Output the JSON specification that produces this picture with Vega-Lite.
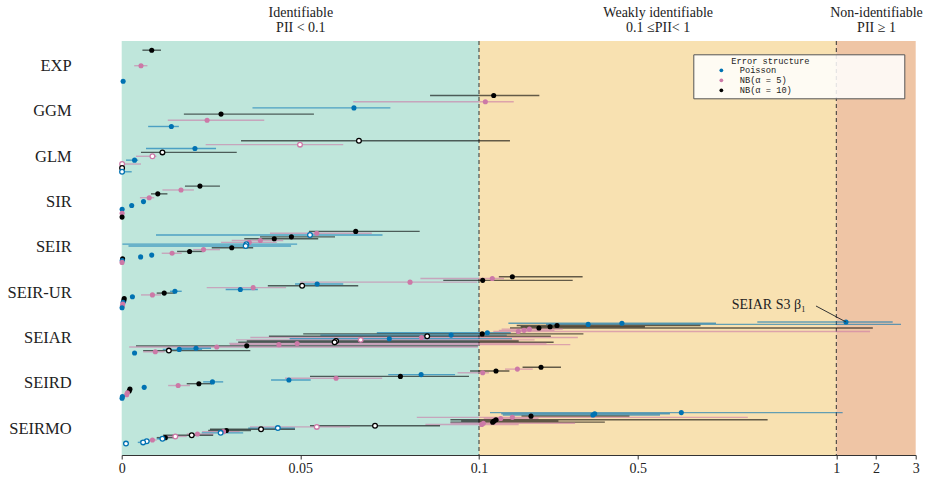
{
  "$schema": "https://vega.github.io/schema/vega-lite/v6.json",
  "width": 794,
  "height": 414,
  "autosize": {"type": "none"},
  "padding": {"left": 121.7, "top": 41, "right": 14.3, "bottom": 24},
  "background": "white",
  "config": {"view": {"stroke": null}, "axis": {"grid": false}},
  "datasets": {
    "zones": [
      {"zone": "identifiable", "lo": 0, "hi": 0.1},
      {"zone": "weak", "lo": 0.1, "hi": 1},
      {"zone": "non", "lo": 1, "hi": 3}
    ],
    "fits": [
      {"model": "EXP", "error": "NB(α = 10)", "kind": "par", "est": 0.0084, "lo": 0.0058, "hi": 0.0110},
      {"model": "EXP", "error": "NB(α = 5)", "kind": "par", "est": 0.0054, "lo": 0.0035, "hi": 0.0072},
      {"model": "EXP", "error": "Poisson", "kind": "par", "est": 0.0004, "lo": 0.0004, "hi": 0.0004},

      {"model": "GGM", "error": "NB(α = 10)", "kind": "par", "est": 0.137, "lo": 0.0863, "hi": 0.252},
      {"model": "GGM", "error": "NB(α = 5)", "kind": "par", "est": 0.116, "lo": 0.0648, "hi": 0.1875},
      {"model": "GGM", "error": "Poisson", "kind": "par", "est": 0.0650, "lo": 0.0366, "hi": 0.0752},
      {"model": "GGM", "error": "NB(α = 10)", "kind": "par", "est": 0.0278, "lo": 0.0174, "hi": 0.0538},
      {"model": "GGM", "error": "NB(α = 5)", "kind": "par", "est": 0.0239, "lo": 0.0129, "hi": 0.0399},
      {"model": "GGM", "error": "Poisson", "kind": "par", "est": 0.0139, "lo": 0.0074, "hi": 0.0160},

      {"model": "GLM", "error": "NB(α = 10)", "kind": "ic", "est": 0.0664, "lo": 0.0334, "hi": 0.178},
      {"model": "GLM", "error": "NB(α = 5)", "kind": "ic", "est": 0.0499, "lo": 0.0235, "hi": 0.0620},
      {"model": "GLM", "error": "Poisson", "kind": "par", "est": 0.0205, "lo": 0.0068, "hi": 0.0264},
      {"model": "GLM", "error": "NB(α = 10)", "kind": "ic", "est": 0.0114, "lo": 0.0054, "hi": 0.0322},
      {"model": "GLM", "error": "NB(α = 5)", "kind": "ic", "est": 0.0086, "lo": 0.0040, "hi": 0.0097},
      {"model": "GLM", "error": "Poisson", "kind": "par", "est": 0.0036, "lo": 0.0012, "hi": 0.0046},
      {"model": "GLM", "error": "NB(α = 5)", "kind": "ic", "est": 0.00012, "lo": 0.0, "hi": 0.0054},
      {"model": "GLM", "error": "NB(α = 10)", "kind": "ic", "est": 0.00011, "lo": 0.00011, "hi": 0.00011},
      {"model": "GLM", "error": "Poisson", "kind": "ic", "est": 0.00010, "lo": 0.0, "hi": 0.0028},

      {"model": "SIR", "error": "NB(α = 10)", "kind": "par", "est": 0.0219, "lo": 0.0177, "hi": 0.0275},
      {"model": "SIR", "error": "NB(α = 5)", "kind": "par", "est": 0.0166, "lo": 0.0114, "hi": 0.0202},
      {"model": "SIR", "error": "NB(α = 10)", "kind": "par", "est": 0.0101, "lo": 0.0082, "hi": 0.0128},
      {"model": "SIR", "error": "NB(α = 5)", "kind": "par", "est": 0.0077, "lo": 0.0051, "hi": 0.0091},
      {"model": "SIR", "error": "Poisson", "kind": "par", "est": 0.0061, "lo": 0.0056, "hi": 0.0065},
      {"model": "SIR", "error": "Poisson", "kind": "par", "est": 0.0028, "lo": 0.0028, "hi": 0.0028},
      {"model": "SIR", "error": "Poisson", "kind": "par", "est": 0.00012, "lo": 0.00012, "hi": 0.00012},
      {"model": "SIR", "error": "NB(α = 5)", "kind": "par", "est": 0.00011, "lo": 0.00011, "hi": 0.00011},
      {"model": "SIR", "error": "NB(α = 10)", "kind": "par", "est": 0.00010, "lo": 0.00010, "hi": 0.00010},

      {"model": "SEIR", "error": "NB(α = 10)", "kind": "par", "est": 0.0655, "lo": 0.0524, "hi": 0.0834},
      {"model": "SEIR", "error": "NB(α = 5)", "kind": "par", "est": 0.0546, "lo": 0.0415, "hi": 0.0700},
      {"model": "SEIR", "error": "Poisson", "kind": "ic", "est": 0.0527, "lo": 0.0096, "hi": 0.0730},
      {"model": "SEIR", "error": "NB(α = 10)", "kind": "par", "est": 0.0475, "lo": 0.0387, "hi": 0.0597},
      {"model": "SEIR", "error": "NB(α = 10)", "kind": "par", "est": 0.0427, "lo": 0.0343, "hi": 0.0550},
      {"model": "SEIR", "error": "NB(α = 5)", "kind": "par", "est": 0.0388, "lo": 0.0308, "hi": 0.0452},
      {"model": "SEIR", "error": "NB(α = 5)", "kind": "par", "est": 0.0357, "lo": 0.0278, "hi": 0.0434},
      {"model": "SEIR", "error": "Poisson", "kind": "ic", "est": 0.0349, "lo": 0.0002, "hi": 0.0491},
      {"model": "SEIR", "error": "Poisson", "kind": "ic", "est": 0.0347, "lo": 0.0019, "hi": 0.0474},
      {"model": "SEIR", "error": "NB(α = 10)", "kind": "par", "est": 0.0308, "lo": 0.0252, "hi": 0.0368},
      {"model": "SEIR", "error": "NB(α = 5)", "kind": "par", "est": 0.0229, "lo": 0.0200, "hi": 0.0275},
      {"model": "SEIR", "error": "NB(α = 10)", "kind": "par", "est": 0.0190, "lo": 0.0155, "hi": 0.0229},
      {"model": "SEIR", "error": "NB(α = 5)", "kind": "par", "est": 0.0141, "lo": 0.0112, "hi": 0.0168},
      {"model": "SEIR", "error": "Poisson", "kind": "par", "est": 0.0084, "lo": 0.0080, "hi": 0.0089},
      {"model": "SEIR", "error": "Poisson", "kind": "par", "est": 0.0053, "lo": 0.0053, "hi": 0.0053},
      {"model": "SEIR", "error": "NB(α = 10)", "kind": "par", "est": 0.00025, "lo": 0.00025, "hi": 0.00025},
      {"model": "SEIR", "error": "Poisson", "kind": "par", "est": 0.00015, "lo": 0.00015, "hi": 0.00015},
      {"model": "SEIR", "error": "NB(α = 5)", "kind": "par", "est": 0.00010, "lo": 0.00010, "hi": 0.00010},

      {"model": "SEIR-UR", "error": "NB(α = 10)", "kind": "par", "est": 0.184, "lo": 0.150, "hi": 0.361},
      {"model": "SEIR-UR", "error": "NB(α = 5)", "kind": "par", "est": 0.1335, "lo": 0.0836, "hi": 0.163},
      {"model": "SEIR-UR", "error": "NB(α = 10)", "kind": "par", "est": 0.1093, "lo": 0.090, "hi": 0.336},
      {"model": "SEIR-UR", "error": "NB(α = 5)", "kind": "par", "est": 0.0807, "lo": 0.0499, "hi": 0.0995},
      {"model": "SEIR-UR", "error": "Poisson", "kind": "par", "est": 0.0547, "lo": 0.0485, "hi": 0.0620},
      {"model": "SEIR-UR", "error": "NB(α = 10)", "kind": "ic", "est": 0.0505, "lo": 0.0409, "hi": 0.0662},
      {"model": "SEIR-UR", "error": "NB(α = 5)", "kind": "par", "est": 0.0368, "lo": 0.0238, "hi": 0.0460},
      {"model": "SEIR-UR", "error": "Poisson", "kind": "par", "est": 0.0332, "lo": 0.0291, "hi": 0.0381},
      {"model": "SEIR-UR", "error": "Poisson", "kind": "par", "est": 0.0149, "lo": 0.0135, "hi": 0.0168},
      {"model": "SEIR-UR", "error": "NB(α = 10)", "kind": "par", "est": 0.0119, "lo": 0.0098, "hi": 0.0149},
      {"model": "SEIR-UR", "error": "NB(α = 5)", "kind": "par", "est": 0.0086, "lo": 0.0054, "hi": 0.0110},
      {"model": "SEIR-UR", "error": "Poisson", "kind": "par", "est": 0.0030, "lo": 0.0030, "hi": 0.0030},
      {"model": "SEIR-UR", "error": "NB(α = 10)", "kind": "par", "est": 0.0007, "lo": 0.0007, "hi": 0.0007},
      {"model": "SEIR-UR", "error": "NB(α = 10)", "kind": "par", "est": 0.0006, "lo": 0.0006, "hi": 0.0006},
      {"model": "SEIR-UR", "error": "Poisson", "kind": "par", "est": 0.0004, "lo": 0.0004, "hi": 0.0004},
      {"model": "SEIR-UR", "error": "NB(α = 5)", "kind": "par", "est": 0.0003, "lo": 0.0003, "hi": 0.0003},
      {"model": "SEIR-UR", "error": "NB(α = 5)", "kind": "par", "est": 0.0002, "lo": 0.0002, "hi": 0.0002},
      {"model": "SEIR-UR", "error": "Poisson", "kind": "par", "est": 0.0001, "lo": 0.0001, "hi": 0.0001},

      {"model": "SEIAR", "error": "Poisson", "kind": "par", "est": 1.244, "lo": 0.801, "hi": 2.42, "label": "SEIAR S3 β₁"},
      {"model": "SEIAR", "error": "Poisson", "kind": "par", "est": 0.460, "lo": 0.174, "hi": 0.697},
      {"model": "SEIAR", "error": "Poisson", "kind": "par", "est": 0.375, "lo": 0.269, "hi": 2.63},
      {"model": "SEIAR", "error": "NB(α = 10)", "kind": "par", "est": 0.2965, "lo": 0.195, "hi": 0.658},
      {"model": "SEIAR", "error": "NB(α = 10)", "kind": "par", "est": 0.279, "lo": 0.205, "hi": 0.518},
      {"model": "SEIAR", "error": "NB(α = 10)", "kind": "par", "est": 0.251, "lo": 0.178, "hi": 1.92},
      {"model": "SEIAR", "error": "NB(α = 5)", "kind": "par", "est": 0.227, "lo": 0.157, "hi": 0.311},
      {"model": "SEIAR", "error": "NB(α = 5)", "kind": "par", "est": 0.2135, "lo": 0.150, "hi": 0.290},
      {"model": "SEIAR", "error": "NB(α = 5)", "kind": "par", "est": 0.199, "lo": 0.136, "hi": 1.85},
      {"model": "SEIAR", "error": "Poisson", "kind": "par", "est": 0.121, "lo": 0.0714, "hi": 0.180},
      {"model": "SEIAR", "error": "NB(α = 10)", "kind": "par", "est": 0.108, "lo": 0.0508, "hi": 0.363},
      {"model": "SEIAR", "error": "Poisson", "kind": "par", "est": 0.0922, "lo": 0.0556, "hi": 0.170},
      {"model": "SEIAR", "error": "NB(α = 10)", "kind": "ic", "est": 0.0855, "lo": 0.0412, "hi": 0.281},
      {"model": "SEIAR", "error": "NB(α = 5)", "kind": "par", "est": 0.0839, "lo": 0.0360, "hi": 0.349},
      {"model": "SEIAR", "error": "Poisson", "kind": "par", "est": 0.0749, "lo": 0.0470, "hi": 0.183},
      {"model": "SEIAR", "error": "NB(α = 5)", "kind": "ic", "est": 0.0669, "lo": 0.0320, "hi": 0.240},
      {"model": "SEIAR", "error": "NB(α = 10)", "kind": "ic", "est": 0.0600, "lo": 0.0350, "hi": 0.200},
      {"model": "SEIAR", "error": "NB(α = 10)", "kind": "ic", "est": 0.0596, "lo": 0.0326, "hi": 0.288},
      {"model": "SEIAR", "error": "NB(α = 5)", "kind": "par", "est": 0.0491, "lo": 0.0301, "hi": 0.270},
      {"model": "SEIAR", "error": "NB(α = 5)", "kind": "par", "est": 0.0440, "lo": 0.0303, "hi": 0.330},
      {"model": "SEIAR", "error": "NB(α = 10)", "kind": "par", "est": 0.0350, "lo": 0.0040, "hi": 0.0997},
      {"model": "SEIAR", "error": "NB(α = 5)", "kind": "par", "est": 0.0266, "lo": 0.0021, "hi": 0.0997},
      {"model": "SEIAR", "error": "Poisson", "kind": "par", "est": 0.0208, "lo": 0.0160, "hi": 0.0250},
      {"model": "SEIAR", "error": "Poisson", "kind": "par", "est": 0.0161, "lo": 0.0115, "hi": 0.0225},
      {"model": "SEIAR", "error": "NB(α = 10)", "kind": "ic", "est": 0.0132, "lo": 0.0060, "hi": 0.0360},
      {"model": "SEIAR", "error": "NB(α = 5)", "kind": "par", "est": 0.0094, "lo": 0.0060, "hi": 0.0120},
      {"model": "SEIAR", "error": "Poisson", "kind": "par", "est": 0.0036, "lo": 0.0036, "hi": 0.0036},

      {"model": "SEIRD", "error": "NB(α = 10)", "kind": "par", "est": 0.2562, "lo": 0.2097, "hi": 0.3065},
      {"model": "SEIRD", "error": "NB(α = 5)", "kind": "par", "est": 0.1967, "lo": 0.1655, "hi": 0.2353},
      {"model": "SEIRD", "error": "NB(α = 10)", "kind": "par", "est": 0.1428, "lo": 0.0975, "hi": 0.1766},
      {"model": "SEIRD", "error": "NB(α = 5)", "kind": "par", "est": 0.1093, "lo": 0.094, "hi": 0.125},
      {"model": "SEIRD", "error": "Poisson", "kind": "par", "est": 0.0838, "lo": 0.0746, "hi": 0.0933},
      {"model": "SEIRD", "error": "NB(α = 10)", "kind": "par", "est": 0.0780, "lo": 0.0527, "hi": 0.0972},
      {"model": "SEIRD", "error": "NB(α = 5)", "kind": "par", "est": 0.0600, "lo": 0.0457, "hi": 0.0729},
      {"model": "SEIRD", "error": "Poisson", "kind": "par", "est": 0.0468, "lo": 0.0418, "hi": 0.0529},
      {"model": "SEIRD", "error": "Poisson", "kind": "par", "est": 0.0254, "lo": 0.0228, "hi": 0.0284},
      {"model": "SEIRD", "error": "NB(α = 10)", "kind": "par", "est": 0.0216, "lo": 0.0182, "hi": 0.0252},
      {"model": "SEIRD", "error": "NB(α = 5)", "kind": "par", "est": 0.0158, "lo": 0.0130, "hi": 0.0191},
      {"model": "SEIRD", "error": "Poisson", "kind": "par", "est": 0.0063, "lo": 0.0063, "hi": 0.0063},
      {"model": "SEIRD", "error": "NB(α = 10)", "kind": "par", "est": 0.0023, "lo": 0.0023, "hi": 0.0023},
      {"model": "SEIRD", "error": "NB(α = 10)", "kind": "par", "est": 0.0021, "lo": 0.0021, "hi": 0.0021},
      {"model": "SEIRD", "error": "NB(α = 5)", "kind": "par", "est": 0.0016, "lo": 0.0016, "hi": 0.0016},
      {"model": "SEIRD", "error": "NB(α = 5)", "kind": "par", "est": 0.0014, "lo": 0.0014, "hi": 0.0014},
      {"model": "SEIRD", "error": "Poisson", "kind": "par", "est": 0.0002, "lo": 0.0002, "hi": 0.0002},
      {"model": "SEIRD", "error": "Poisson", "kind": "par", "est": 0.0001, "lo": 0.0001, "hi": 0.0001},

      {"model": "SEIRMO", "error": "Poisson", "kind": "par", "est": 0.6096, "lo": 0.1277, "hi": 1.16},
      {"model": "SEIRMO", "error": "Poisson", "kind": "par", "est": 0.3914, "lo": 0.156, "hi": 0.581},
      {"model": "SEIRMO", "error": "Poisson", "kind": "par", "est": 0.387, "lo": 0.160, "hi": 0.556},
      {"model": "SEIRMO", "error": "NB(α = 10)", "kind": "par", "est": 0.231, "lo": 0.207, "hi": 0.479},
      {"model": "SEIRMO", "error": "NB(α = 5)", "kind": "par", "est": 0.184, "lo": 0.0826, "hi": 0.777},
      {"model": "SEIRMO", "error": "NB(α = 5)", "kind": "par", "est": 0.1547, "lo": 0.112, "hi": 0.250},
      {"model": "SEIRMO", "error": "NB(α = 10)", "kind": "par", "est": 0.1428, "lo": 0.092, "hi": 0.827},
      {"model": "SEIRMO", "error": "NB(α = 10)", "kind": "par", "est": 0.138, "lo": 0.095, "hi": 0.300},
      {"model": "SEIRMO", "error": "NB(α = 10)", "kind": "par", "est": 0.1345, "lo": 0.092, "hi": 0.417},
      {"model": "SEIRMO", "error": "NB(α = 5)", "kind": "par", "est": 0.111, "lo": 0.092, "hi": 0.342},
      {"model": "SEIRMO", "error": "NB(α = 5)", "kind": "par", "est": 0.1068, "lo": 0.085, "hi": 0.200},
      {"model": "SEIRMO", "error": "NB(α = 10)", "kind": "ic", "est": 0.0709, "lo": 0.0527, "hi": 0.0891},
      {"model": "SEIRMO", "error": "NB(α = 5)", "kind": "ic", "est": 0.0546, "lo": 0.0359, "hi": 0.0639},
      {"model": "SEIRMO", "error": "Poisson", "kind": "ic", "est": 0.0437, "lo": 0.0354, "hi": 0.0485},
      {"model": "SEIRMO", "error": "NB(α = 10)", "kind": "ic", "est": 0.0390, "lo": 0.0247, "hi": 0.0485},
      {"model": "SEIRMO", "error": "NB(α = 10)", "kind": "par", "est": 0.0293, "lo": 0.0242, "hi": 0.0362},
      {"model": "SEIRMO", "error": "NB(α = 5)", "kind": "par", "est": 0.0285, "lo": 0.0225, "hi": 0.0330},
      {"model": "SEIRMO", "error": "Poisson", "kind": "ic", "est": 0.0277, "lo": 0.0224, "hi": 0.0340},
      {"model": "SEIRMO", "error": "NB(α = 5)", "kind": "par", "est": 0.0212, "lo": 0.0182, "hi": 0.0257},
      {"model": "SEIRMO", "error": "NB(α = 10)", "kind": "ic", "est": 0.0196, "lo": 0.0116, "hi": 0.0256},
      {"model": "SEIRMO", "error": "NB(α = 5)", "kind": "ic", "est": 0.0150, "lo": 0.0116, "hi": 0.0182},
      {"model": "SEIRMO", "error": "NB(α = 10)", "kind": "par", "est": 0.0122, "lo": 0.0098, "hi": 0.0154},
      {"model": "SEIRMO", "error": "Poisson", "kind": "ic", "est": 0.0114, "lo": 0.0098, "hi": 0.0130},
      {"model": "SEIRMO", "error": "NB(α = 5)", "kind": "par", "est": 0.0086, "lo": 0.0077, "hi": 0.0098},
      {"model": "SEIRMO", "error": "Poisson", "kind": "ic", "est": 0.0070, "lo": 0.0051, "hi": 0.0079},
      {"model": "SEIRMO", "error": "Poisson", "kind": "ic", "est": 0.0060, "lo": 0.0045, "hi": 0.0068},
      {"model": "SEIRMO", "error": "Poisson", "kind": "ic", "est": 0.0012, "lo": 0.0012, "hi": 0.0012}
    ]
  },
  "data": {"name": "fits"},
  "transform": [
    {"window": [{"op": "row_number", "as": "r"}], "groupby": ["model"], "sort": [{"field": "est", "order": "descending"}]},
    {"joinaggregate": [{"op": "count", "as": "n"}], "groupby": ["model"]},
    {"calculate": "indexof(['EXP','GGM','GLM','SIR','SEIR','SEIR-UR','SEIAR','SEIRD','SEIRMO'], datum.model) - 0.342 + 0.684 * (datum.r - 1) / max(datum.n - 1, 1)", "as": "pos"}
  ],
  "resolve": {"axis": {"x": "independent"}},
  "layer": [
    {
      "data": {"name": "zones"},
      "mark": {"type": "rect"},
      "encoding": {
        "x": {
          "field": "lo", "type": "quantitative",
          "scale": {"type": "linear", "domain": [0, 0.1, 1, 3], "range": [0, 357.3, 714.6, 794], "nice": false, "zero": false},
          "axis": {
            "orient": "top", "title": null, "values": [0.05, 0.55, 2],
            "labelExpr": "datum.value < 0.1 ? ['Identifiable', 'PII < 0.1'] : datum.value < 1 ? ['Weakly identifiable', '0.1 ≤PII< 1'] : ['Non-identifiable', 'PII ≥ 1']",
            "ticks": false, "domain": false, "labelPadding": 21.5, "labelLineHeight": 14.5,
            "labelFont": "Liberation Serif", "labelFontSize": 14, "labelColor": "#222",
            "labelFlush": false, "labelOverlap": false
          }
        },
        "x2": {"field": "hi"},
        "fill": {
          "field": "zone", "type": "nominal",
          "scale": {"domain": ["identifiable", "weak", "non"], "range": ["#BFE6DB", "#F8E1B1", "#EFC5A5"]},
          "legend": null
        }
      }
    },
    {
      "data": {"name": "zones"},
      "transform": [{"filter": "datum.lo > 0"}],
      "mark": {"type": "rule", "strokeDash": [4, 3], "color": "#333", "strokeWidth": 1},
      "encoding": {
        "x": {
          "field": "lo", "type": "quantitative",
          "scale": {"type": "linear", "domain": [0, 0.1, 1, 3], "range": [0, 357.3, 714.6, 794], "nice": false, "zero": false},
          "axis": null
        }
      }
    },
    {
      "mark": {"type": "rule", "strokeWidth": 1.4, "strokeOpacity": 0.6},
      "encoding": {
        "x": {
          "field": "lo", "type": "quantitative",
          "scale": {"type": "linear", "domain": [0, 0.1, 1, 3], "range": [0, 357.3, 714.6, 794], "nice": false, "zero": false},
          "axis": {
            "orient": "bottom", "title": null, "values": [0, 0.05, 0.1, 0.5, 1, 2, 3], "format": "~g",
            "labelFont": "Liberation Serif", "labelFontSize": 14, "labelColor": "#222",
            "domainColor": "#333", "tickColor": "#333", "tickSize": 4, "labelPadding": 2,
            "labelFlush": false, "labelOverlap": false
          }
        },
        "x2": {"field": "hi"},
        "y": {
          "field": "pos", "type": "quantitative",
          "scale": {"domain": [-0.545, 8.594], "reverse": true, "nice": false, "zero": false},
          "axis": {
            "title": null, "values": [0, 1, 2, 3, 4, 5, 6, 7, 8],
            "labelExpr": "['EXP','GGM','GLM','SIR','SEIR','SEIR-UR','SEIAR','SEIRD','SEIRMO'][datum.value]",
            "ticks": false, "domain": false, "labelPadding": 50.5,
            "labelFont": "Liberation Serif", "labelFontSize": 16.5, "labelColor": "#222",
            "labelFlush": false, "labelOverlap": false
          }
        },
        "stroke": {
          "field": "error", "type": "nominal",
          "scale": {"domain": ["NB(α = 10)", "NB(α = 5)", "Poisson"], "range": ["#000000", "#CC79A7", "#0072B2"]},
          "legend": null
        }
      }
    },
    {
      "transform": [{"filter": "datum.kind == 'par'"}],
      "mark": {"type": "point", "filled": true, "size": 26, "opacity": 1},
      "encoding": {
        "x": {
          "field": "est", "type": "quantitative",
          "scale": {"type": "linear", "domain": [0, 0.1, 1, 3], "range": [0, 357.3, 714.6, 794], "nice": false, "zero": false},
          "axis": null
        },
        "y": {
          "field": "pos", "type": "quantitative",
          "scale": {"domain": [-0.545, 8.594], "reverse": true, "nice": false, "zero": false}
        },
        "color": {
          "field": "error", "type": "nominal",
          "scale": {"domain": ["Poisson", "NB(α = 5)", "NB(α = 10)"], "range": ["#0072B2", "#CC79A7", "#000000"]},
          "legend": {
            "title": "\u2800\u2800\u2800\u2800\u2800Error structure\u2800\u2800\u2800\u2800\u2800\u2800\u2800\u2800\u2800\u2800\u2800\u2800\u2800",
            "orient": "none", "legendX": 571.6, "legendY": 13.3,
            "fillColor": "rgba(255,255,255,0.85)", "strokeColor": "#555",
            "padding": 3, "titlePadding": 0, "rowPadding": -2,
            "titleFont": "Liberation Mono", "titleFontSize": 8.7, "titleFontWeight": "normal", "titleColor": "#222",
            "titleAnchor": "start", "titleLimit": 400,
            "labelFont": "Liberation Mono", "labelFontSize": 8.7, "labelColor": "#222",
            "symbolType": "circle", "symbolSize": 14, "symbolOffset": 20.7, "labelOffset": 14, "symbolStrokeWidth": 0
          }
        }
      }
    },
    {
      "transform": [{"filter": "datum.kind == 'ic'"}],
      "mark": {"type": "point", "filled": false, "fill": "white", "fillOpacity": 1, "size": 22, "strokeWidth": 1.3, "opacity": 1},
      "encoding": {
        "x": {
          "field": "est", "type": "quantitative",
          "scale": {"type": "linear", "domain": [0, 0.1, 1, 3], "range": [0, 357.3, 714.6, 794], "nice": false, "zero": false},
          "axis": null
        },
        "y": {
          "field": "pos", "type": "quantitative",
          "scale": {"domain": [-0.545, 8.594], "reverse": true, "nice": false, "zero": false}
        },
        "stroke": {
          "field": "error", "type": "nominal",
          "scale": {"domain": ["NB(α = 10)", "NB(α = 5)", "Poisson"], "range": ["#000000", "#CC79A7", "#0072B2"]},
          "legend": null
        }
      }
    },
    {
      "transform": [{"filter": "isValid(datum.label)"}],
      "mark": {"type": "rule", "color": "#333", "strokeWidth": 1, "x2Offset": -30, "y2Offset": -16},
      "encoding": {
        "x": {
          "field": "est", "type": "quantitative",
          "scale": {"type": "linear", "domain": [0, 0.1, 1, 3], "range": [0, 357.3, 714.6, 794], "nice": false, "zero": false},
          "axis": null
        },
        "x2": {"field": "est"},
        "y": {
          "field": "pos", "type": "quantitative",
          "scale": {"domain": [-0.545, 8.594], "reverse": true, "nice": false, "zero": false}
        },
        "y2": {"field": "pos"}
      }
    },
    {
      "transform": [{"filter": "isValid(datum.label)"}],
      "mark": {"type": "text", "align": "right", "baseline": "middle", "dx": -40, "dy": -17, "font": "Liberation Serif", "fontSize": 14, "color": "#222"},
      "encoding": {
        "x": {
          "field": "est", "type": "quantitative",
          "scale": {"type": "linear", "domain": [0, 0.1, 1, 3], "range": [0, 357.3, 714.6, 794], "nice": false, "zero": false},
          "axis": null
        },
        "y": {
          "field": "pos", "type": "quantitative",
          "scale": {"domain": [-0.545, 8.594], "reverse": true, "nice": false, "zero": false}
        },
        "text": {"field": "label"}
      }
    }
  ]
}
